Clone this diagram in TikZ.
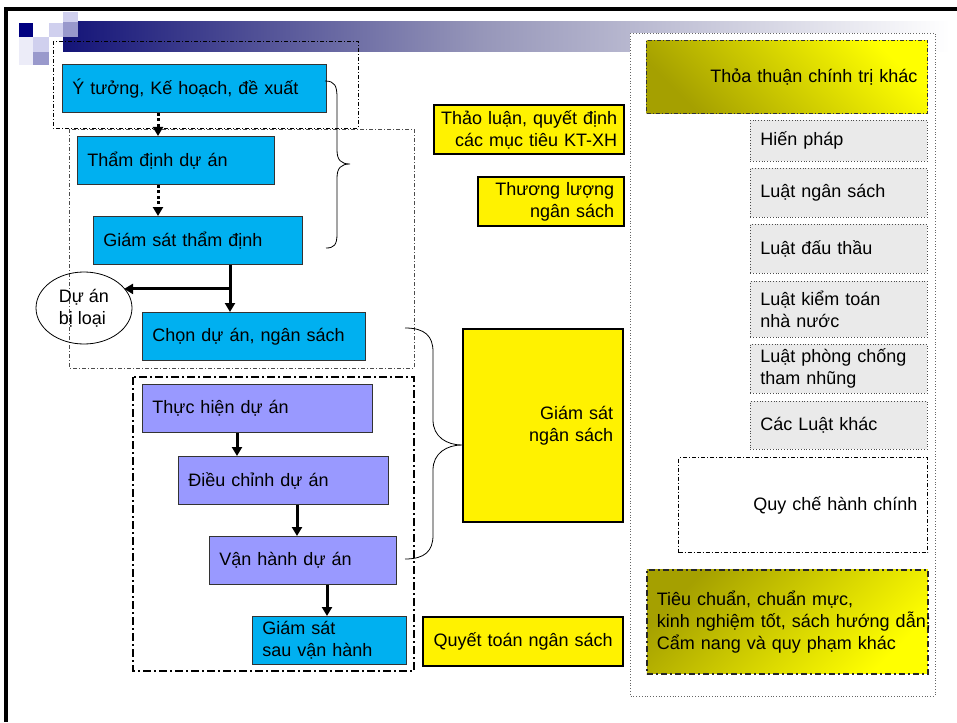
\documentclass[tikz,border=0pt]{standalone}
\usepackage{fontspec}
\setmainfont{Liberation Sans}
\usetikzlibrary{arrows.meta,shapes.geometric}
\definecolor{cyanfill}{RGB}{0,176,240}
\definecolor{lilac}{RGB}{153,153,255}
\definecolor{lawgrey}{RGB}{234,234,234}
\definecolor{darkolive}{RGB}{165,160,0}
\definecolor{midolive}{RGB}{232,230,0}
\definecolor{navybar}{RGB}{20,20,120}
\definecolor{midbar}{RGB}{150,150,185}
\definecolor{sqdark}{RGB}{0,0,128}
\definecolor{sqmid}{RGB}{153,153,204}
\definecolor{sqlight}{RGB}{208,208,238}
\begin{document}
\begin{tikzpicture}[x=1pt,y=-1pt,
    txt/.style={anchor=north west, inner xsep=10pt, inner ysep=0pt, font=\fontsize{18}{22}\selectfont},
    cyanbox/.style={txt, draw=black!80, fill=cyanfill, line width=0.9pt, align=left},
    lilacbox/.style={txt, draw=black!80, fill=lilac, line width=0.9pt, align=left},
    yellowbox/.style={txt, draw=black, fill=yellow, line width=2.2pt, align=right},
    lawbox/.style={txt, draw=black!70, fill=lawgrey, dotted, line width=0.8pt, align=left, text width=157pt},
    dashdot/.style={dash pattern=on 4pt off 2pt on 1pt off 2pt},
    glow/.style={top color=yellow, middle color=midolive, bottom color=darkolive, shading angle=#1},
    arrow/.style={line width=3pt, -{Triangle[width=10pt,length=9pt]}},
    dotarrow/.style={line width=3pt, dash pattern=on 3pt off 2.5pt, -{Triangle[width=10pt,length=9pt]}}]
    \useasboundingbox (0,0) rectangle (957,722);
    % title bar and squares
    \shade[left color=navybar, right color=midbar] (63,22) rectangle (480,52);
    \shade[left color=midbar, right color=white] (480,22) rectangle (950,52);
    \fill[sqdark] (19,23) rectangle (33,37);
    \fill[sqlight] (63,12) rectangle (78,22);
    \fill[sqmid] (63,22) rectangle (78,37);
    \fill[sqlight] (49,23) rectangle (63,37);
    \fill[sqlight] (33,37) rectangle (49,52);
    \fill[sqmid] (33,52) rectangle (49,65);
    \fill[sqlight!40] (19,37) rectangle (33,65);
    % frame
    \draw[line width=4pt] (6,722) -- (6,9) -- (957,9);
    % right panel
    \filldraw[fill=white, draw=black!60, dotted, line width=0.8pt] (630,33) rectangle (935,696);
    % groups
    \draw[dashdot, line width=0.8pt] (53,41) rectangle (358,128);
    \draw[dashdot, black!70, line width=0.7pt] (69,129) rectangle (414,368);
    \draw[line width=1.8pt, dash pattern=on 8pt off 3pt on 2pt off 3pt] (133,377) rectangle (414,671);
    % left flow
    \node[cyanbox, text width=244pt, minimum height=48pt] (idea) at (62,64) {Ý tưởng, Kế hoạch, đề xuất};
    \node[cyanbox, text width=177pt, minimum height=48pt] (appraise) at (77,136) {Thẩm định dự án};
    \node[cyanbox, text width=189pt, minimum height=48pt] (review) at (93,216) {Giám sát thẩm định};
    \node[ellipse, draw, line width=0.8pt, minimum width=96pt, minimum height=72pt, inner sep=0pt, align=left, font=\fontsize{18}{22}\selectfont] (reject) at (84,308) {Dự án\\bị loại};
    \node[cyanbox, text width=203pt, minimum height=48pt] (select) at (142,312) {Chọn dự án, ngân sách};
    \node[lilacbox, text width=210pt, minimum height=48pt] (implement) at (142,384) {Thực hiện dự án};
    \node[lilacbox, text width=190pt, minimum height=48pt] (adjust) at (178,456) {Điều chỉnh dự án};
    \node[lilacbox, text width=167pt, minimum height=48pt] (operate) at (209,536) {Vận hành dự án};
    \node[cyanbox, text width=134pt, minimum height=48pt] (postcheck) at (252,616) {Giám sát\\sau vận hành};
    \draw[dotarrow] ([xshift=96pt]idea.south west) -- ([xshift=81pt]appraise.north west);
    \draw[dotarrow] ([xshift=81pt]appraise.south west) -- ([xshift=65pt]review.north west);
    \draw[arrow] ([xshift=137pt]review.south west) -- ([xshift=88pt]select.north west);
    \coordinate (fork) at ([xshift=137pt,yshift=-24pt]review.south west);
    \draw[arrow] (fork) -- (fork -| reject.27);
    \draw[arrow] ([xshift=95pt]implement.south west) -- ([xshift=59pt]adjust.north west);
    \draw[arrow] ([xshift=119pt]adjust.south west) -- ([xshift=88pt]operate.north west);
    \draw[arrow] ([xshift=118pt]operate.south west) -- ([xshift=75pt]postcheck.north west);
    % braces
    \draw[line width=0.8pt] (325,81) .. controls (335,81) and (337,86) .. (337,98) -- (337,150)
        .. controls (337,160) and (341,164) .. (350,164) .. controls (341,164) and (337,168) .. (337,178)
        -- (337,234) .. controls (337,245) and (334,248) .. (326,248);
    \draw[line width=0.8pt] (405,328) .. controls (425,328) and (433,336) .. (433,352) -- (433,420)
        .. controls (433,437) and (447,445) .. (462,445) .. controls (447,445) and (433,453) .. (433,470)
        -- (433,535) .. controls (433,551) and (425,559) .. (405,559);
    % budget steps
    \node[yellowbox, inner xsep=7pt, text width=176pt, minimum height=49pt] (goals) at (433,104) {\mbox{Thảo luận, quyết định}\\các mục tiêu KT-XH};
    \node[yellowbox, text width=126pt, minimum height=49pt] (negotiate) at (477,176) {Thương lượng\\ngân sách};
    \node[yellowbox, text width=140pt, minimum height=193pt] (monitor) at (462,328) {Giám sát\\ngân sách};
    \node[yellowbox, text width=180pt, minimum height=49pt, align=center] (settle) at (422,616) {Quyết toán ngân sách};
    % legal framework
    \node[txt, draw=black!80, dashdot, line width=1pt, glow=-45, text width=261pt, minimum height=73pt, align=right] (politics) at (646,40) {Thỏa thuận chính trị khác};
    \node[lawbox, minimum height=41pt] (constitution) at (750,120) {Hiến pháp};
    \node[lawbox, minimum height=49pt] (budgetlaw) at (750,168) {Luật ngân sách};
    \node[lawbox, minimum height=49pt] (tenderlaw) at (750,224) {Luật đấu thầu};
    \node[lawbox, minimum height=56pt] (auditlaw) at (750,281) {Luật kiểm toán\\nhà nước};
    \node[lawbox, minimum height=49pt] (anticorrupt) at (750,344) {Luật phòng chống\\tham nhũng};
    \node[lawbox, minimum height=48pt] (otherlaws) at (750,401) {Các Luật khác};
    \node[txt, draw=black, dashdot, line width=1pt, fill=white, text width=229pt, minimum height=95pt, align=right] (admin) at (678,457) {Quy chế hành chính};
    \node[txt, draw=black!85, line width=1.6pt, dash pattern=on 6pt off 3pt on 2pt off 3pt, glow=-135, text width=261pt, minimum height=104pt, align=left] (standards) at (646,569) {Tiêu chuẩn, chuẩn mực,\\\mbox{kinh nghiệm tốt, sách hướng dẫn;}\\Cẩm nang và quy phạm khác};
\end{tikzpicture}
\end{document}
